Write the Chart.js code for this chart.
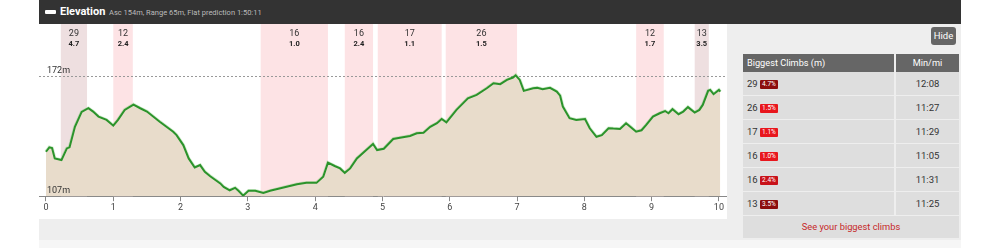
<!DOCTYPE html>
<html>
<head>
<meta charset="utf-8">
<script src="https://cdn.jsdelivr.net/npm/chart.js@4.4.1/dist/chart.umd.min.js"></script>
<style>
  body { margin: 0; width: 1000px; height: 248px; background: #fff; font-family: Roboto, "Noto Sans", sans-serif; overflow: hidden; position: relative; }
  .abs { position: absolute; }
  #hdr { left: 39px; top: 0; width: 922px; height: 24px; background: #333; }
  #hdr .ico { left: 6px; top: 10px; width: 11px; height: 4px; background: #fff; border-radius: 1px; }
  #hdr .ttl { left: 21px; top: 5px; color: #fff; font-weight: bold; font-size: 11px; }
  #hdr .sub { left: 70px; top: 7.5px; color: #bbb; font-size: 7.5px; }
  #grey { left: 39px; top: 24px; width: 922px; height: 216px; background: #eee; }
  #foot { left: 39px; top: 240px; width: 922px; height: 8px; background: #f6f6f6; }
  #chartbox { left: 39px; top: 24px; width: 688px; height: 195px; background: #fff; }
  #hide { left: 931px; top: 27px; width: 25px; height: 18px; background: #666; color: #fff; font-size: 9.5px; line-height: 18px; text-align: center; border-radius: 3px; }
  .th { background: #666; color: #fff; font-size: 9.2px; line-height: 18px; height: 18px; top: 54px; }
  .td { background: #dedede; color: #333; font-size: 9.5px; height: 23px; line-height: 23px; }
  .badge { display: inline-block; color: #fff; font-size: 6.5px; line-height: 9px; padding: 0 2px; border-radius: 1px; vertical-align: 1px; margin-left: 0px; }
</style>
</head>
<body>
<div id="hdr" class="abs">
  <div class="abs ico"></div>
  <div class="abs ttl">Elevation</div>
  <div class="abs sub">Asc 154m, Range 65m, Flat prediction 1:50:11</div>
</div>
<div id="grey" class="abs"></div>
<div id="foot" class="abs"></div>
<div id="chartbox" class="abs"><canvas id="myChart" width="688" height="195"></canvas></div>
<div id="hide" class="abs">Hide</div>
<div id="table"></div>

<script>
// elevation profile (miles, metres)
const miles = [0.00, 0.05, 0.09, 0.13, 0.23, 0.31, 0.35, 0.43, 0.53, 0.63, 0.70, 0.78, 0.90, 1.00, 1.07, 1.17, 1.30, 1.40, 1.50, 1.69,
  1.89, 1.94, 2.04, 2.12, 2.21, 2.29, 2.36, 2.44, 2.59, 2.64, 2.73, 2.81, 2.86, 2.93, 3.01, 3.11, 3.23, 3.33, 3.53, 3.73,
  3.87, 4.02, 4.12, 4.19, 4.29, 4.37, 4.44, 4.52, 4.62, 4.76, 4.86, 4.92, 5.02, 5.16, 5.26, 5.41, 5.51, 5.61, 5.71, 5.81,
  5.88, 5.95, 6.10, 6.27, 6.40, 6.55, 6.65, 6.75, 6.85, 6.94, 6.98, 7.04, 7.10, 7.24, 7.30, 7.38, 7.49, 7.59, 7.64, 7.68,
  7.78, 7.88, 8.01, 8.08, 8.18, 8.26, 8.36, 8.43, 8.53, 8.62, 8.70, 8.77, 8.85, 8.92, 9.02, 9.12, 9.20, 9.25, 9.31, 9.40,
  9.47, 9.54, 9.64, 9.71, 9.76, 9.84, 9.87, 9.92, 10.00, 10.02];
const elevation = [131, 133.4, 133, 127.4, 126.5, 132.8, 133.4, 144.5, 152.5, 154.5, 152.7, 150, 148.2, 145.1, 148.2, 153.6, 156.5, 154.5, 152.7, 147.2,
  141.8, 140, 134.6, 127.4, 122.5, 123.8, 120.2, 117.8, 113.9, 112, 110.2, 111.5, 109.9, 107.3, 109.9, 109.9, 108.8, 109.9, 111.7, 113.5,
  114.2, 114.2, 117.5, 125.1, 123.3, 122, 119.6, 122, 127.4, 131.9, 135.2, 131.9, 132.6, 137.9, 138.6, 139.5, 141, 141.3, 144.5, 146.4,
  148.7, 146.9, 153.6, 159.9, 161.7, 165.3, 168, 167.5, 169.8, 171.1, 172.3, 169.8, 163.9, 165.3, 165.5, 164.8, 165.5, 163.5, 161.3, 155.4,
  149.1, 148.2, 148.7, 143.7, 139.1, 140, 143.7, 143.5, 143.3, 146.4, 144, 141.8, 142.6, 145.5, 150, 151.8, 153, 151.8, 154, 151.3,
  152.7, 155.1, 152.2, 153.6, 156.3, 163.9, 164.4, 162.1, 164.4, 163.5];

const xTicks = [0, 1, 2, 3, 4, 5, 6, 7, 8, 9, 10];
const elevMin = 107;
const elevMax = 172;

// climbs shown as bands
const climbStart = [0.22, 1.00, 3.19, 4.44, 4.93, 5.94, 8.77, 9.64];
const climbEnd = [0.61, 1.29, 4.19, 4.86, 5.88, 7.00, 9.18, 9.85];
const climbGain = [29, 12, 16, 16, 17, 26, 12, 13];
const climbGrade = [4.7, 2.4, 1.0, 2.4, 1.1, 1.5, 1.7, 3.5];

// biggest climbs table
const tableGain = [29, 26, 17, 16, 16, 13];
const tableGrade = [4.7, 1.5, 1.1, 1.0, 2.4, 3.5];
const tablePace = ["12:08", "11:27", "11:29", "11:05", "11:31", "11:25"];

function bandColor(g) {
  return g >= 3 ? "#eedfe0" : "#fde3e5";
}
function badgeColor(g) {
  if (g >= 3) return "#8c0d0d";
  if (g >= 2) return "#c8121a";
  return "#e8161d";
}

// table
let html = "";
html += '<div class="abs th" style="left:743px;width:147px;padding-left:4px">Biggest Climbs (m)</div>';
html += '<div class="abs th" style="left:896px;width:63px;text-align:center">Min/mi</div>';
for (let i = 0; i < tableGain.length; i++) {
  const top = 72 + i * 24;
  html += '<div class="abs td" style="left:743px;top:' + top + 'px;width:147px;padding-left:4px">' + tableGain[i] +
    ' <span class="badge" style="background:' + badgeColor(tableGrade[i]) + '">' + tableGrade[i].toFixed(1) + '%</span></div>';
  html += '<div class="abs td" style="left:896px;top:' + top + 'px;width:63px;text-align:center">' + tablePace[i] + '</div>';
}
html += '<div class="abs td" style="left:743px;top:216px;width:216px;height:22px;line-height:22px;text-align:center;color:#c62828;font-size:9.3px">See your biggest climbs</div>';
document.getElementById("table").innerHTML = html;

const points = miles.map((m, i) => ({ x: m, y: elevation[i] }));

const overlay = {
  id: "overlay",
  beforeDatasetsDraw(chart) {
    const { ctx, chartArea, scales } = chart;
    const xs = scales.x, ys = scales.y;
    ctx.save();
    for (let i = 0; i < climbStart.length; i++) {
      const x1 = xs.getPixelForValue(climbStart[i]);
      const x2 = xs.getPixelForValue(climbEnd[i]);
      ctx.fillStyle = bandColor(climbGrade[i]);
      ctx.fillRect(x1, chartArea.top, x2 - x1, chartArea.bottom - chartArea.top);
    }
    const yTop = Math.round(ys.getPixelForValue(elevMax)) + 0.5;
    ctx.strokeStyle = "#999";
    ctx.lineWidth = 1;
    ctx.setLineDash([2, 2]);
    ctx.beginPath();
    ctx.moveTo(0, yTop);
    ctx.lineTo(chart.width, yTop);
    ctx.stroke();
    ctx.restore();
  },
  afterDatasetsDraw(chart) {
    const { ctx, chartArea, scales } = chart;
    const xs = scales.x, ys = scales.y;
    ctx.save();
    ctx.fillStyle = "#333";
    ctx.font = "9px Roboto";
    ctx.textAlign = "left";
    ctx.textBaseline = "bottom";
    const x0 = xs.getPixelForValue(0) + 1;
    ctx.fillText(elevMax + "m", x0, ys.getPixelForValue(elevMax) - 1);
    ctx.fillText(elevMin + "m", x0, ys.getPixelForValue(elevMin) - 1);
    ctx.textAlign = "center";
    ctx.textBaseline = "middle";
    for (let i = 0; i < climbStart.length; i++) {
      const cx = xs.getPixelForValue((climbStart[i] + climbEnd[i]) / 2);
      ctx.font = "9px Roboto";
      ctx.fillStyle = "#333";
      ctx.fillText(String(climbGain[i]), cx, chartArea.top + 10);
      ctx.font = "bold 7.5px Roboto";
      ctx.fillStyle = "#222";
      ctx.fillText(climbGrade[i].toFixed(1), cx, chartArea.top + 20);
    }
    ctx.restore();
  }
};

const ctx = document.getElementById("myChart");
const myChart = new Chart(ctx, {
  type: "line",
  data: {
    datasets: [
      {
        data: points,
        borderColor: "#2b932b",
        borderWidth: 2,
        backgroundColor: "#e8dccb",
        fill: "start",
        pointRadius: 0,
        tension: 0,
      },
      {
        data: points,
        borderColor: "rgba(120,200,110,0.35)",
        borderWidth: 3.5,
        fill: false,
        pointRadius: 0,
        tension: 0,
      },
    ],
  },
  options: {
    responsive: false,
    devicePixelRatio: 1,
    animation: false,
    layout: { padding: { left: 0, right: 0, top: 0, bottom: 5 } },
    plugins: { legend: { display: false }, tooltip: { enabled: false } },
    scales: {
      x: {
        type: "linear",
        min: -0.104,
        max: 10.12,
        afterBuildTicks: (scale) => {
          scale.ticks = xTicks.map((v) => ({ value: v }));
        },
        border: { display: true, color: "#888", width: 1 },
        grid: { display: true, drawOnChartArea: false, tickLength: 5, color: "#888" },
        ticks: { color: "#444", font: { size: 9, family: "Roboto" }, padding: 1, maxRotation: 0, autoSkip: false },
      },
      y: {
        display: false,
        min: elevMin,
        max: 200,
      },
    },
  },
  plugins: [overlay],
});
</script>
</body>
</html>
